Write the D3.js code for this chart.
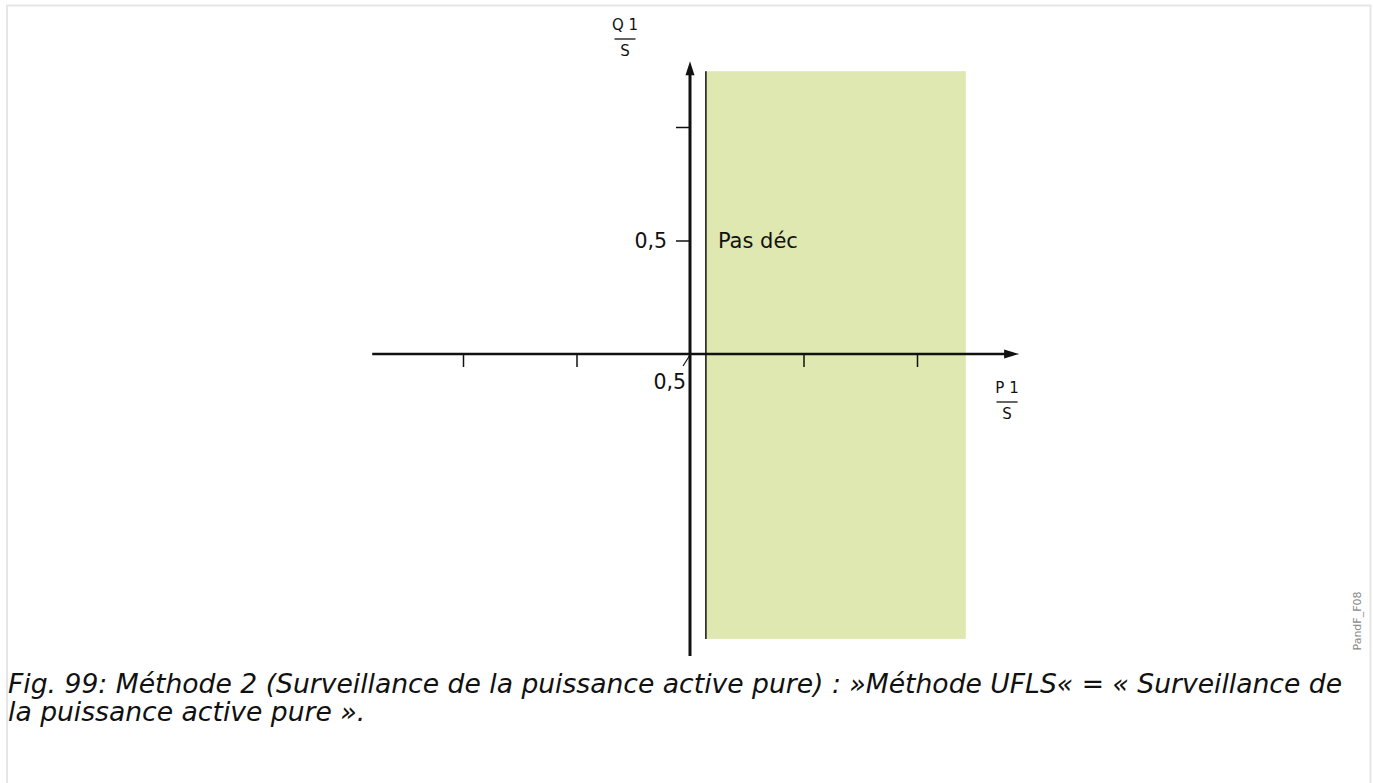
<!DOCTYPE html>
<html>
<head>
<meta charset="utf-8">
<script src="https://cdn.jsdelivr.net/npm/d3@7"></script>
<style>
    body { margin: 0; background: #fff; }
    svg { display: block; }
    svg text { font-family: "DejaVu Sans", sans-serif; }
</style>
</head>
<body>
<svg id="chart" width="1373" height="783"></svg>
<script>
// axis extents (in p.u.)
const xExtent = [-1.4, 1.45];
const yExtent = [-1.33, 1.29];
const xTicks = [-1, -0.5, 0.5, 1];
const yTicks = [0.5, 1];
const yTickLabels = ["0,5", ""];
// "Pas déc" zone
const zoneX = [0.07, 1.215];
const zoneY = [-1.255, 1.246];
const zoneLabel = "Pas déc";
const originLabel = "0,5";
const captionLines = [
    "Fig. 99: Méthode 2 (Surveillance de la puissance active pure) : »Méthode UFLS« = « Surveillance de",
    "la puissance active pure »."
];

let svg = d3.select("#chart");

// frame
svg.append("path")
    .attr("d", "M7,783 V5.5 H1370.5 V783")
    .attr("fill", "none")
    .attr("stroke", "#e6e6e6")
    .attr("stroke-width", 2);

let unit = 227;
let x = d3.scaleLinear().domain([0, 1]).range([690, 690 + unit]);
let y = d3.scaleLinear().domain([0, 1]).range([354, 354 - unit]);

// zone
svg.append("rect")
    .attr("x", x(zoneX[0]))
    .attr("y", y(zoneY[1]))
    .attr("width", x(zoneX[1]) - x(zoneX[0]))
    .attr("height", y(zoneY[0]) - y(zoneY[1]))
    .attr("fill", "#dfe8b0");
svg.append("line")
    .attr("x1", x(zoneX[0])).attr("x2", x(zoneX[0]))
    .attr("y1", y(zoneY[1])).attr("y2", y(zoneY[0]))
    .attr("stroke", "#111").attr("stroke-width", 1.5);

svg.append("text")
    .attr("x", x(zoneX[0]) + 12)
    .attr("y", y(0.5))
    .attr("dy", "0.35em")
    .attr("font-size", "21px")
    .attr("fill", "#111")
    .text(zoneLabel);

// x axis ticks
let gx = svg.append("g")
    .attr("transform", `translate(0,${y(0)})`)
    .call(d3.axisBottom(x).tickValues(xTicks).tickSize(13).tickFormat(""));
gx.select(".domain").remove();
gx.selectAll(".tick line").attr("stroke", "#111").attr("stroke-width", 1.5);

// y axis ticks
let gy = svg.append("g")
    .attr("transform", `translate(${x(0)},0)`)
    .call(d3.axisLeft(y).tickValues(yTicks).tickSize(14).tickPadding(9)
        .tickFormat((d, i) => yTickLabels[i]));
gy.select(".domain").remove();
gy.selectAll(".tick line").attr("stroke", "#111").attr("stroke-width", 1.5);
gy.selectAll(".tick text")
    .attr("font-size", "20.5px")
    .attr("fill", "#111");

// axes with arrows
svg.append("line")
    .attr("x1", x(xExtent[0])).attr("x2", x(xExtent[1]) - 10)
    .attr("y1", y(0)).attr("y2", y(0))
    .attr("stroke", "#111").attr("stroke-width", 2.5);
svg.append("path")
    .attr("d", `M${x(xExtent[1])},${y(0)} l-15,-4.5 l0,9 Z`)
    .attr("fill", "#111");

svg.append("line")
    .attr("x1", x(0)).attr("x2", x(0))
    .attr("y1", y(yExtent[0])).attr("y2", y(yExtent[1]) + 10)
    .attr("stroke", "#111").attr("stroke-width", 3);
svg.append("path")
    .attr("d", `M${x(0)},${y(yExtent[1])} l-4.5,14 l9,0 Z`)
    .attr("fill", "#111");

// origin label with leader
svg.append("line")
    .attr("x1", x(0)).attr("y1", y(0) + 1)
    .attr("x2", x(0) - 7).attr("y2", y(0) + 12)
    .attr("stroke", "#111").attr("stroke-width", 1.2);
svg.append("text")
    .attr("x", x(0) - 4)
    .attr("y", y(0) + 28)
    .attr("dy", "0.35em")
    .attr("text-anchor", "end")
    .attr("font-size", "20.5px")
    .attr("fill", "#111")
    .text(originLabel);

// fraction labels
function fraction(cx, top, num) {
    let g = svg.append("g").attr("font-size", "15px").attr("fill", "#111");
    g.append("text").attr("x", cx).attr("y", top + 12).attr("text-anchor", "middle").text(num);
    g.append("line").attr("x1", cx - 10.5).attr("x2", cx + 10.5)
        .attr("y1", top + 21).attr("y2", top + 21)
        .attr("stroke", "#111").attr("stroke-width", 1.3);
    g.append("text").attr("x", cx).attr("y", top + 38).attr("text-anchor", "middle").text("S");
}
fraction(625, 18, "Q 1");
fraction(1007, 381, "P 1");

// watermark
svg.append("text")
    .attr("transform", "translate(1361,621) rotate(-90)")
    .attr("text-anchor", "middle")
    .attr("font-size", "11px")
    .attr("fill", "#888")
    .text("PandF_F08");

// caption
svg.append("g").selectAll("text")
    .data(captionLines)
    .join("text")
    .attr("x", 8)
    .attr("y", (d, i) => 693 + i * 28)
    .attr("font-style", "italic")
    .attr("font-size", "26.6px")
    .attr("fill", "#111")
    .text(d => d);
</script>
</body>
</html>
